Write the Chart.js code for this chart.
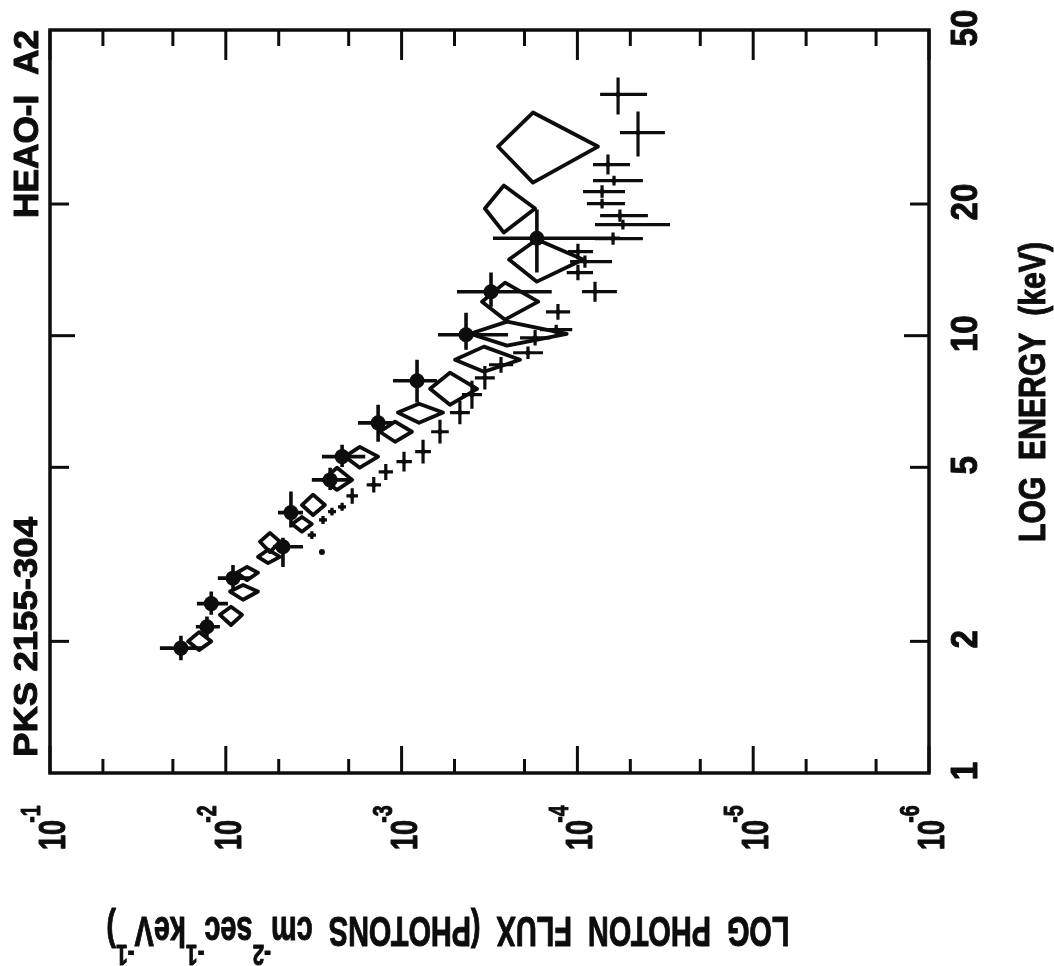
<!DOCTYPE html>
<html>
<head>
<meta charset="utf-8">
<script src="https://cdn.jsdelivr.net/npm/chart.js@4"></script>
<style>
  html, body { margin: 0; padding: 0; background: #fff; }
  #wrap { position: relative; width: 1054px; height: 966px; }
</style>
</head>
<body>
<div id="wrap"><canvas id="spectre" width="1054" height="966"></canvas></div>
<script>
// PKS 2155-304, HEAO-1 A2 : flux de photons en fonction de l'énergie (figure tournée)

// Axes
const fluxDecades  = [1e-1, 1e-2, 1e-3, 1e-4, 1e-5, 1e-6];
const fluxExpLabels = ['-1', '-2', '-3', '-4', '-5', '-6'];
const fluxMinor    = [5e-2, 2e-2, 5e-3, 2e-3, 5e-4, 2e-4, 5e-5, 2e-5, 5e-6, 2e-6];
const energyTicks  = [1, 2, 5, 10, 20, 50];
const energyLabels = ['1', '2', '5', '10', '20', '50'];

// Points pleins (avec barres d'erreur)
const circleFlux    = [1.80e-2, 1.28e-2, 1.21e-2, 9.10e-3, 4.73e-3, 4.26e-3, 2.55e-3, 2.18e-3, 1.36e-3, 8.17e-4, 4.30e-4, 3.10e-4, 1.70e-4];
const circleFluxMax = [2.37e-2, 1.48e-2, 1.46e-2, 1.11e-2, 5.39e-3, 5.05e-3, 3.24e-3, 2.84e-3, 1.77e-3, 1.12e-3, 6.21e-4, 4.84e-4, 3.02e-4];
const circleFluxMin = [1.36e-2, 1.08e-2, 9.72e-3, 7.28e-3, 3.64e-3, 3.64e-3, 1.97e-3, 1.61e-3, 1.135e-3, 6.29e-4, 2.48e-4, 1.40e-4, 5.73e-5];
const circleEnergy  = [1.93, 2.16, 2.44, 2.79, 3.29, 3.94, 4.68, 5.29, 6.32, 7.89, 10.05, 12.6, 16.7];
const circleEMin    = [1.81, 2.05, 2.30, 2.62, 2.96, 3.64, 4.44, 5.01, 5.72, 7.03, 9.29, 11.65, 13.94];
const circleEMax    = [2.06, 2.28, 2.60, 2.99, 3.45, 4.40, 4.99, 5.63, 6.95, 8.81, 11.29, 13.94, 19.43];

// Losanges ouverts
const diamondFlux    = [1.42e-2, 9.34e-3, 7.98e-3, 7.57e-3, 5.75e-3, 5.61e-3, 3.69e-3, 3.19e-3, 2.33e-3, 1.73e-3, 1.09e-3, 7.96e-4, 5.31e-4, 3.40e-4, 2.51e-4, 2.58e-4, 1.70e-4, 2.62e-4, 1.79e-4];
const diamondFluxMax = [1.64e-2, 1.08e-2, 9.46e-3, 8.64e-3, 6.56e-3, 6.39e-3, 4.20e-3, 3.69e-3, 2.80e-3, 2.10e-3, 1.33e-3, 1.05e-3, 6.89e-4, 4.97e-4, 4.08e-4, 3.49e-4, 2.45e-4, 3.36e-4, 2.83e-4];
const diamondFluxMin = [1.21e-2, 8.09e-3, 6.56e-3, 6.56e-3, 4.92e-3, 4.92e-3, 3.24e-3, 2.73e-3, 1.91e-3, 1.36e-3, 8.73e-4, 5.81e-4, 3.72e-4, 2.12e-4, 1.15e-4, 1.67e-4, 9.29e-5, 1.74e-4, 7.64e-5];
const diamondEnergy  = [2.00, 2.30, 2.60, 2.87, 3.12, 3.38, 3.71, 4.10, 4.68, 5.29, 6.03, 6.67, 7.56, 8.81, 10.1, 11.96, 14.93, 19.53, 27.07];
const diamondEMin    = [1.91, 2.18, 2.49, 2.76, 3.02, 3.20, 3.56, 3.89, 4.44, 4.99, 5.72, 6.32, 6.95, 8.27, 9.49, 10.88, 13.29, 17.21, 22.39];
const diamondEMax    = [2.10, 2.40, 2.69, 2.96, 3.24, 3.54, 3.85, 4.33, 4.99, 5.57, 6.36, 6.99, 8.23, 9.44, 10.77, 13.22, 16.59, 22.04, 32.38];

// Croix
const plusFlux    = [3.24e-3, 2.80e-3, 2.49e-3, 2.18e-3, 1.91e-3, 1.44e-3, 1.23e-3, 9.69e-4, 7.55e-4, 6.05e-4, 4.66e-4, 3.98e-4, 3.36e-4, 2.72e-4, 1.91e-4, 1.74e-4, 1.32e-4, 1.29e-4, 7.94e-5, 9.93e-5, 9.06e-5, 9.93e-5, 6.27e-5, 5.51e-5, 5.73e-5, 7.24e-5, 7.24e-5, 6.19e-5, 6.70e-5, 4.52e-5, 5.87e-5];
const plusFluxMax = [3.42e-3, 2.95e-3, 2.62e-3, 2.30e-3, 2.06e-3, 1.58e-3, 1.35e-3, 1.07e-3, 8.37e-4, 6.79e-4, 5.31e-4, 4.54e-4, 3.83e-4, 3.18e-4, 2.32e-4, 2.12e-4, 1.63e-4, 1.51e-4, 9.42e-5, 1.15e-4, 1.10e-4, 1.13e-4, 7.94e-5, 7.94e-5, 7.43e-5, 8.83e-5, 9.29e-5, 8.15e-5, 8.15e-5, 5.73e-5, 7.43e-5];
const plusFluxMin = [3.07e-3, 2.66e-3, 2.36e-3, 2.07e-3, 1.77e-3, 1.31e-3, 1.12e-3, 8.74e-4, 6.81e-4, 5.39e-4, 4.09e-4, 3.49e-4, 2.95e-4, 2.32e-4, 1.57e-4, 1.43e-4, 1.07e-4, 1.10e-4, 5.96e-5, 8.15e-5, 6.35e-5, 8.15e-5, 4.24e-5, 2.97e-5, 3.97e-5, 5.36e-5, 5.36e-5, 4.24e-5, 5.02e-5, 3.18e-5, 4.02e-5];
const plusEnergy  = [3.50, 3.79, 3.96, 4.06, 4.30, 4.56, 4.88, 5.15, 5.43, 6.03, 6.67, 7.33, 8.01, 8.58, 9.14, 9.89, 10.32, 11.34, 12.61, 13.94, 14.77, 15.57, 16.67, 17.95, 18.82, 20.05, 21.36, 22.63, 24.62, 29.14, 35.61];
const plusEMin    = [3.43, 3.71, 3.88, 3.98, 4.13, 4.38, 4.68, 4.89, 5.10, 5.67, 6.27, 6.81, 7.53, 8.23, 8.85, 9.49, 10.06, 10.88, 11.96, 13.38, 14.30, 14.94, 16.14, 17.50, 18.22, 19.54, 20.68, 22.06, 23.35, 25.68, 32.05];
const plusEMax    = [3.57, 3.87, 4.04, 4.15, 4.48, 4.75, 5.09, 5.43, 5.78, 6.42, 7.10, 7.89, 8.52, 8.94, 9.44, 10.31, 10.59, 11.82, 13.29, 14.53, 15.26, 16.22, 17.22, 18.41, 19.44, 20.57, 22.07, 23.22, 25.95, 32.56, 38.94];

// Point isolé
const dotFlux   = [2.84e-3];
const dotEnergy = [3.20];

const ink = '#0d0d0d';
const FONT = '"Liberation Sans", Arial, sans-serif';

function pts(flux, fMin, fMax, en, eMin, eMax) {
  return flux.map((f, i) => ({ x: f, y: en[i], xMin: fMin[i], xMax: fMax[i], yMin: eMin[i], yMax: eMax[i] }));
}

// Texte tourné avec exposants ; parts = [{t, sup, gap}]
function label(ctx, x, y, angle, parts, capH, opts) {
  opts = opts || {};
  const fs = capH / 0.716;
  const fonts = parts.map(p => `bold ${p.sup ? fs * 0.72 : fs}px ${FONT}`);
  let total = 0;
  const widths = parts.map((p, i) => {
    ctx.font = fonts[i];
    const w = ctx.measureText(p.t).width;
    total += w + (p.gap || 0);
    return w;
  });
  const sx = opts.width ? opts.width / total : (opts.sx || 1);
  ctx.save();
  ctx.translate(x, y);
  ctx.rotate(angle);
  ctx.scale(sx, 1);
  ctx.fillStyle = ink;
  ctx.strokeStyle = ink;
  ctx.lineWidth = 1;
  ctx.lineJoin = 'round';
  ctx.textAlign = 'left';
  ctx.textBaseline = 'alphabetic';
  let cur = opts.align === 'left' ? 0 : -total / 2;
  parts.forEach((p, i) => {
    ctx.font = fonts[i];
    cur += p.gap || 0;
    const yy = p.sup ? -capH * 0.92 : 0;
    ctx.fillText(p.t, cur, yy);
    ctx.strokeText(p.t, cur, yy);
    cur += widths[i];
  });
  ctx.restore();
}

// Barres d'erreur et losanges
const shapesPlugin = {
  id: 'shapes',
  beforeDatasetsDraw(chart) {
    const { ctx, scales: { x, y } } = chart;
    ctx.save();
    ctx.strokeStyle = ink;
    ctx.lineJoin = 'round';
    ctx.lineCap = 'butt';
    chart.data.datasets.forEach(ds => {
      if (!ds.shape) return;
      ctx.lineWidth = ds.shapeWidth;
      ds.data.forEach(p => {
        const cx = x.getPixelForValue(p.x), cy = y.getPixelForValue(p.y);
        const l = x.getPixelForValue(p.xMax), r = x.getPixelForValue(p.xMin);
        const t = y.getPixelForValue(p.yMax), b = y.getPixelForValue(p.yMin);
        ctx.beginPath();
        if (ds.shape === 'diamond') {
          ctx.moveTo(l, cy); ctx.lineTo(cx, t); ctx.lineTo(r, cy); ctx.lineTo(cx, b); ctx.closePath();
        } else {
          ctx.moveTo(l, cy); ctx.lineTo(r, cy);
          ctx.moveTo(cx, t); ctx.lineTo(cx, b);
        }
        ctx.stroke();
      });
    });
    ctx.restore();
  }
};

// Cadre, graduations et textes
const cadrePlugin = {
  id: 'cadre',
  afterDraw(chart) {
    const { ctx, chartArea: a, scales: { x, y } } = chart;
    const seg = (x1, y1, x2, y2) => { ctx.beginPath(); ctx.moveTo(x1, y1); ctx.lineTo(x2, y2); ctx.stroke(); };
    ctx.save();
    ctx.strokeStyle = ink;
    ctx.lineWidth = 3.5;
    ctx.strokeRect(a.left, a.top, a.right - a.left, a.bottom - a.top);

    ctx.lineWidth = 3;
    fluxDecades.forEach(v => {
      const px = x.getPixelForValue(v);
      seg(px, a.top, px, a.top + 30);
      seg(px, a.bottom, px, a.bottom - 27);
    });
    fluxMinor.forEach(v => {
      const px = x.getPixelForValue(v);
      seg(px, a.top, px, a.top + 16);
      seg(px, a.bottom, px, a.bottom - 14);
    });
    energyTicks.forEach(v => {
      if (v === 1 || v === 50) return;
      const py = y.getPixelForValue(v);
      const len = v === 10 ? 25 : 19;
      seg(a.left, py, a.left + len, py);
      seg(a.right, py, a.right - len, py);
    });

    // étiquettes du flux : 10^-n
    fluxDecades.forEach((v, i) => {
      const px = x.getPixelForValue(v);
      label(ctx, px + 15, 850, -Math.PI / 2,
        [{ t: '10' }, { t: fluxExpLabels[i], sup: true, gap: -4 }], 27, { sx: 0.72, align: 'left' });
    });
    // étiquettes d'énergie
    energyTicks.forEach((v, i) => {
      const py = y.getPixelForValue(v);
      label(ctx, 977, py - 2, -Math.PI / 2, [{ t: energyLabels[i] }], 27, { sx: 0.88 });
    });

    label(ctx, 1045, 392, -Math.PI / 2, [{ t: 'LOG  ENERGY  (keV)' }], 27, { width: 300 });
    label(ctx, 37, 637, -Math.PI / 2, [{ t: 'PKS 2155-304' }], 24, { width: 240 });
    label(ctx, 38, 124, -Math.PI / 2, [{ t: 'HEAO-I  A2' }], 25, { width: 188 });
    label(ctx, 448, 917, Math.PI, [
      { t: 'LOG  PHOTON  FLUX  (PHOTONS  cm' }, { t: '-2', sup: true },
      { t: 'sec' }, { t: '-1', sup: true }, { t: 'keV' }, { t: '-1', sup: true }, { t: ')' }
    ], 30, { width: 683 });
    ctx.restore();
  }
};

new Chart(document.getElementById('spectre'), {
  type: 'scatter',
  data: {
    datasets: [
      {
        label: 'losanges',
        data: pts(diamondFlux, diamondFluxMin, diamondFluxMax, diamondEnergy, diamondEMin, diamondEMax),
        pointRadius: 0,
        shape: 'diamond',
        shapeWidth: 3.8
      },
      {
        label: 'croix',
        data: pts(plusFlux, plusFluxMin, plusFluxMax, plusEnergy, plusEMin, plusEMax),
        pointStyle: 'rectRot',
        pointRadius: 3.5,
        backgroundColor: ink,
        borderWidth: 0,
        shape: 'bars',
        shapeWidth: 3.2
      },
      {
        label: 'points',
        data: pts(circleFlux, circleFluxMin, circleFluxMax, circleEnergy, circleEMin, circleEMax),
        pointStyle: 'circle',
        pointRadius: 7.5,
        backgroundColor: ink,
        borderWidth: 0,
        shape: 'bars',
        shapeWidth: 3.6
      },
      {
        label: 'isolé',
        data: dotFlux.map((f, i) => ({ x: f, y: dotEnergy[i] })),
        pointRadius: 3,
        backgroundColor: ink,
        borderWidth: 0
      }
    ]
  },
  options: {
    responsive: false,
    animation: false,
    layout: { padding: { left: 50, top: 30, right: 125, bottom: 193 } },
    plugins: { legend: { display: false }, tooltip: { enabled: false } },
    scales: {
      x: { type: 'logarithmic', reverse: true, min: 1e-6, max: 1e-1, display: false },
      y: { type: 'logarithmic', min: 1, max: 50, display: false }
    }
  },
  plugins: [shapesPlugin, cadrePlugin]
});
</script>
</body>
</html>
